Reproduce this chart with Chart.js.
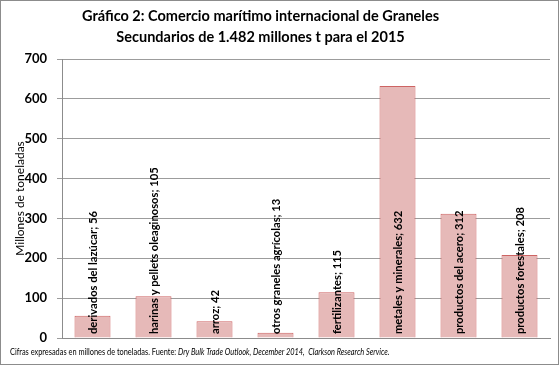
<!DOCTYPE html>
<html>
<head>
<meta charset="utf-8">
<script src="https://cdn.jsdelivr.net/npm/chart.js@4"></script>
<style>
  html, body { margin: 0; padding: 0; background: #fff; }
  #wrap { position: relative; width: 559px; height: 365px; }
</style>
</head>
<body>
<div id="wrap"><canvas id="chart" width="559" height="365"></canvas></div>
<script>
// datos del gráfico
const categorias = [
  "derivados del lazúcar",
  "harinas y pellets oleaginosos",
  "arroz",
  "otros graneles agrícolas",
  "fertilizantes",
  "metales y minerales",
  "productos del acero",
  "productos forestales"
];
const valores = [56, 105, 42, 13, 115, 632, 312, 208];
const ticksY = [0, 100, 200, 300, 400, 500, 600, 700];

const tituloLineas = [
  "Gráfico 2: Comercio marítimo internacional de Graneles",
  "Secundarios de 1.482 millones t para el 2015"
];
const notaNormal = "Cifras expresadas en millones de toneladas. Fuente: ";
const notaItalica = "Dry Bulk Trade Outlook, December 2014,  Clarkson Research Service.";

const FONT = "Lato, 'Open Sans', sans-serif";

// título, etiquetas verticales dentro de las barras, nota al pie y marco
const extras = {
  id: "extras",
  afterDatasetsDraw(chart) {
    const ctx = chart.ctx;
    const meta = chart.getDatasetMeta(0);
    const yScale = chart.scales.y;
    ctx.save();
    ctx.fillStyle = "#000";
    ctx.font = "bold 11.2px " + FONT;
    ctx.textAlign = "left";
    ctx.textBaseline = "middle";
    meta.data.forEach((bar, i) => {
      const txt = categorias[i] + "; " + valores[i];
      ctx.save();
      ctx.translate(bar.x + 0.5, yScale.bottom - 4);
      ctx.rotate(-Math.PI / 2);
      ctx.fillText(txt, 0, 0);
      ctx.restore();
    });
    ctx.restore();
  },
  afterDraw(chart) {
    const ctx = chart.ctx;
    ctx.save();
    ctx.fillStyle = "#000";
    ctx.textAlign = "center";
    ctx.textBaseline = "middle";
    ctx.font = "bold 14.5px " + FONT;
    ctx.fillText(tituloLineas[0], 260.5, 16);
    ctx.fillText(tituloLineas[1], 260.5, 37);
    ctx.restore();

    ctx.save();
    ctx.fillStyle = "#000";
    ctx.textBaseline = "middle";
    ctx.textAlign = "left";
    // la nota original es en Calibri, más estrecha: se comprime en horizontal
    ctx.translate(10, 352);
    ctx.scale(0.82, 1);
    ctx.font = "9px " + FONT;
    ctx.fillText(notaNormal, 0, 0);
    const w = ctx.measureText(notaNormal).width;
    ctx.font = "italic 9px " + FONT;
    ctx.fillText(notaItalica, w, 0);
    ctx.restore();

    ctx.save();
    ctx.strokeStyle = "#8c8c8c";
    ctx.lineWidth = 1;
    ctx.strokeRect(0.5, 0.5, chart.width - 1, chart.height - 1);
    ctx.restore();
  }
};

new Chart(document.getElementById("chart"), {
  type: "bar",
  data: {
    labels: categorias,
    datasets: [{
      data: valores,
      backgroundColor: "#e6b9b8",
      borderColor: "#cd6463",
      borderWidth: 1,
      barPercentage: 0.59,
      categoryPercentage: 1
    }]
  },
  options: {
    responsive: false,
    animation: false,
    layout: { padding: { left: 0, right: 9, top: 59, bottom: 27 } },
    plugins: {
      legend: { display: false },
      tooltip: { enabled: false },
      title: { display: false }
    },
    scales: {
      x: {
        ticks: { display: false },
        grid: { display: false, drawTicks: false },
        border: { color: "#8c8c8c" }
      },
      y: {
        min: 0,
        max: 700,
        afterBuildTicks(axis) { axis.ticks = ticksY.map(v => ({ value: v })); },
        afterFit(axis) { axis.width = 62; },
        ticks: {
          color: "#000",
          padding: 10,
          font: { family: FONT, size: 13, weight: "bold" }
        },
        grid: { color: "#9c9c9c", tickLength: 5 },
        border: { color: "#8c8c8c" },
        title: {
          display: true,
          text: "Millones de toneladas",
          color: "#000",
          font: { family: FONT, size: 12 },
          padding: { top: 13, bottom: 0 }
        }
      }
    }
  },
  plugins: [extras]
});
</script>
</body>
</html>
